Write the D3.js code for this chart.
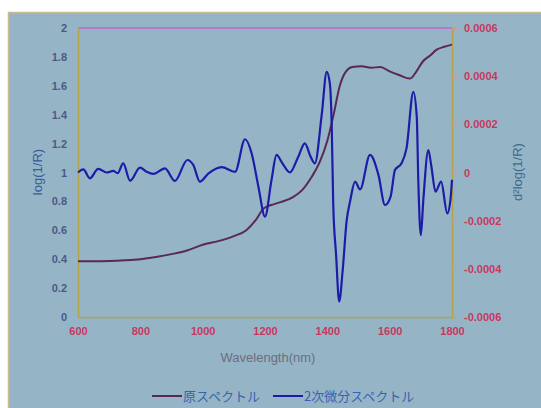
<!DOCTYPE html>
<html>
<head>
<meta charset="utf-8">
<script src="https://cdn.jsdelivr.net/npm/d3@7"></script>
<style>
  html, body { margin: 0; padding: 0; background: #ffffff; }
  svg { display: block; }
  text { font-family: "Liberation Sans", "DejaVu Sans", sans-serif; }
  .jp { font-family: "Noto Sans CJK JP", sans-serif; }
</style>
</head>
<body>
<svg id="chart" width="541" height="408"></svg>
<script>
// Wavelength ticks and axis ticks
const xTicks = [600, 800, 1000, 1200, 1400, 1600, 1800];
const leftTicks = [0, 0.2, 0.4, 0.6, 0.8, 1, 1.2, 1.4, 1.6, 1.8, 2];
const rightTicks = [-0.0006, -0.0004, -0.0002, 0, 0.0002, 0.0004, 0.0006];
const seriesNames = ["原スペクトル", "2次微分スペクトル"];

// Raw NIR spectrum, log(1/R)
const origWl = [600, 650, 700, 750, 800, 850, 900, 950, 1000, 1050, 1100, 1140, 1170, 1195, 1220, 1250, 1290, 1320, 1350, 1375, 1400, 1420, 1440, 1460, 1480, 1510, 1540, 1570, 1600, 1630, 1665, 1686, 1707, 1730, 1751, 1775, 1800];
const origVal = [0.385, 0.385, 0.387, 0.392, 0.40, 0.415, 0.435, 0.46, 0.50, 0.525, 0.56, 0.60, 0.67, 0.75, 0.775, 0.795, 0.83, 0.88, 0.97, 1.07, 1.22, 1.40, 1.60, 1.70, 1.73, 1.735, 1.725, 1.73, 1.70, 1.675, 1.65, 1.70, 1.77, 1.81, 1.85, 1.87, 1.885];

// Second-derivative spectrum, d²log(1/R)
const derivWl = [600, 617, 638, 665, 692, 713, 727, 745, 767, 799, 820, 842, 879, 911, 951, 970, 991, 1018, 1061, 1104, 1136, 1157, 1179, 1200, 1221, 1237, 1255, 1280, 1305, 1328, 1345, 1360, 1382, 1398, 1408, 1414, 1419, 1428, 1438, 1449, 1462, 1473, 1489, 1505, 1537, 1564, 1585, 1603, 1617, 1638, 1654, 1676, 1687, 1692, 1700, 1708, 1724, 1734, 1747, 1765, 1785, 1795, 1800];
const derivVal = [0.0, 0.000013, -0.000024, 0.000015, 0.0, 0.000007, -0.000003, 0.000038, -0.000034, 0.00002, 0.000003, -0.000006, 0.000017, -0.000035, 0.000052, 0.000031, -0.000038, -0.000005, 0.000022, 0.000003, 0.000138, 0.00008, -0.00006, -0.000183, -0.00003, 0.000073, 0.00004, 0.0, 0.00006, 0.000121, 0.00007, 0.000038, 0.00024, 0.000418, 0.00037, 0.0002, -0.000135, -0.00034, -0.000536, -0.00041, -0.0002, -0.00012, -0.000038, -0.00007, 0.000073, -0.00001, -0.000135, -0.0001, 0.00001, 0.000038, 0.0001, 0.000335, 0.00023, -0.00004, -0.00026, -0.000114, 0.000093, 0.000024, -0.00008, -0.000038, -0.00017, -0.000114, -0.00003];

const svg = d3.select("#chart");
const W = 541, H = 408;
const plot = { left: 78, right: 452, top: 28, bottom: 317 };

// Chart frame
svg.append("rect").attr("x", 8.5).attr("y", 12.5).attr("width", W).attr("height", H)
  .attr("fill", "#95b5c7").attr("stroke", "#c9bb92").attr("stroke-width", 1.5);

const x = d3.scaleLinear().domain([600, 1800]).range([plot.left, plot.right]);
const yL = d3.scaleLinear().domain([0, 2]).range([plot.bottom, plot.top]);
const yR = d3.scaleLinear().domain([-0.0006, 0.0006]).range([plot.bottom, plot.top]);

// Top border of the plot area
svg.append("line").attr("x1", plot.left).attr("x2", plot.right)
  .attr("y1", plot.top).attr("y2", plot.top)
  .attr("stroke", "#c064d2").attr("stroke-width", 1.5);

// Bottom axis
const gx = svg.append("g").attr("transform", `translate(0,${plot.bottom})`)
  .call(d3.axisBottom(x).tickValues(xTicks).tickSize(0).tickPadding(10).tickFormat(d3.format("d")));
gx.select(".domain").attr("stroke", "#b4a444").attr("stroke-width", 1.5);
gx.selectAll("text").attr("fill", "#c8385e").attr("font-size", 11).attr("font-weight", "bold");

// Left axis
const gl = svg.append("g").attr("transform", `translate(${plot.left},0)`)
  .call(d3.axisLeft(yL).tickValues(leftTicks).tickSize(0).tickPadding(11).tickFormat(d => String(d)));
gl.select(".domain").attr("stroke", "#b4a444").attr("stroke-width", 1.5);
gl.selectAll("text").attr("fill", "#4a5a86").attr("font-size", 11).attr("font-weight", "bold");

// Right axis
const gr = svg.append("g").attr("transform", `translate(${plot.right},0)`)
  .call(d3.axisRight(yR).tickValues(rightTicks).tickSize(5).tickPadding(7).tickFormat(d => d === 0 ? "0" : d.toFixed(4)));
gr.select(".domain").attr("stroke", "#b4a444").attr("stroke-width", 1.5);
gr.selectAll(".tick line").attr("stroke", "#e2908a");
gr.selectAll("text").attr("fill", "#c8385e").attr("font-size", 11).attr("font-weight", "bold");

// Axis titles
svg.append("text").attr("x", 268).attr("y", 362).attr("text-anchor", "middle")
  .attr("font-size", 13).attr("fill", "#6e6e7c").text("Wavelength(nm)");
svg.append("text").attr("transform", "translate(42,172) rotate(-90)").attr("text-anchor", "middle")
  .attr("font-size", 13).attr("fill", "#3a5a9a").text("log(1/R)");
svg.append("text").attr("transform", "translate(522,172) rotate(-90)").attr("text-anchor", "middle")
  .attr("font-size", 13).attr("fill", "#3e6a8a").text("d²log(1/R)");

// Series lines
const origLine = d3.line().x(d => x(d[0])).y(d => yL(d[1])).curve(d3.curveMonotoneX);
const derivLine = d3.line().x(d => x(d[0])).y(d => yR(d[1])).curve(d3.curveMonotoneX);

svg.append("path").datum(d3.zip(origWl, origVal))
  .attr("d", origLine).attr("fill", "none")
  .attr("stroke", "#5a2852").attr("stroke-width", 2);

svg.append("path").datum(d3.zip(derivWl, derivVal))
  .attr("d", derivLine).attr("fill", "none")
  .attr("stroke", "#1c1ca8").attr("stroke-width", 2.2);

// Legend
const legendItems = [
  { name: seriesNames[0], color: "#5a2852", x: 152 },
  { name: seriesNames[1], color: "#1c1ca8", x: 273 }
];
const lg = svg.append("g");
legendItems.forEach(it => {
  lg.append("line").attr("x1", it.x).attr("x2", it.x + 30).attr("y1", 396).attr("y2", 396)
    .attr("stroke", it.color).attr("stroke-width", 2);
  lg.append("text").attr("class", "jp").attr("x", it.x + 31).attr("y", 401)
    .attr("font-size", 13).attr("fill", "#3a62b0").text(it.name);
});
</script>
</body>
</html>
